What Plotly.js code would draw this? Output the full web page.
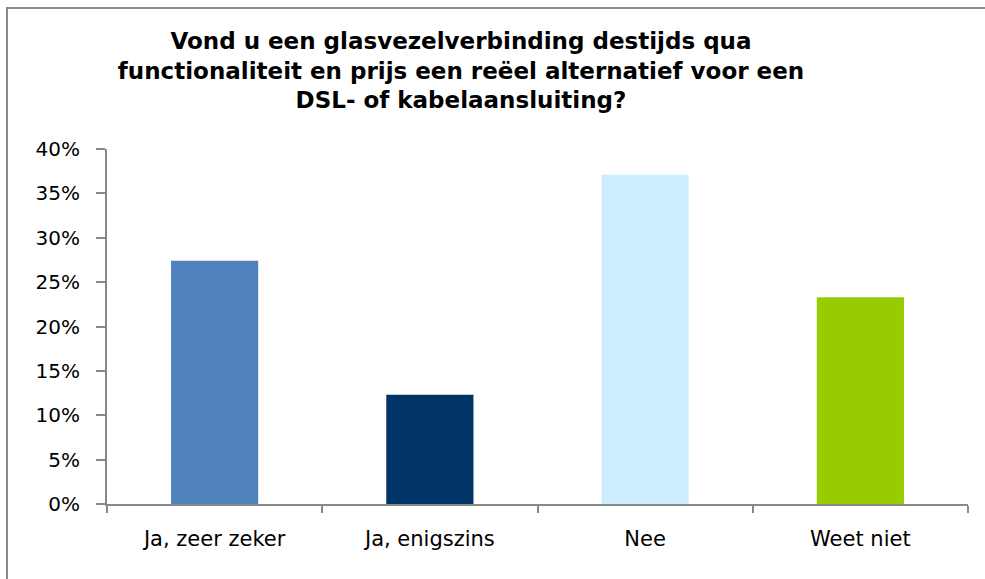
<!DOCTYPE html>
<html>
<head>
<meta charset="utf-8">
<script src="https://cdn.plot.ly/plotly-3.0.1.min.js"></script>
<style>html,body{margin:0;padding:0;background:#fff;}#chart{width:985px;height:579px;}</style>
</head>
<body>
<div id="chart"></div>
<script>
const categories = ["Ja, zeer zeker", "Ja, enigszins", "Nee", "Weet niet"];
const values = [0.274, 0.123, 0.371, 0.233];
const barColors = ["#4f81bd", "#003366", "#cceeff", "#99cc00"];
const yTickVals = [0, 0.05, 0.10, 0.15, 0.20, 0.25, 0.30, 0.35, 0.40];
const titleText = "Vond u een glasvezelverbinding destijds qua<br>functionaliteit en prijs een reëel alternatief voor een<br>DSL- of kabelaansluiting?";

const font = "Verdana, 'DejaVu Sans', sans-serif";

const trace = {
  type: "bar",
  x: categories,
  y: values,
  marker: {color: barColors, line: {width: 0}},
  hoverinfo: "x+y"
};

const layout = {
  width: 985,
  height: 579,
  paper_bgcolor: "#ffffff",
  plot_bgcolor: "#ffffff",
  margin: {l: 107, r: 17, t: 149, b: 75},
  showlegend: false,
  bargap: 0.595,
  font: {family: font, color: "#000000", size: 20},
  title: {
    text: titleText,
    font: {family: font, size: 23, color: "#000000", weight: "bold"},
    xref: "container", x: 0.468, xanchor: "center",
    yref: "container", y: 0.916, yanchor: "top"
  },
  xaxis: {
    type: "category",
    tickson: "boundaries",
    ticks: "outside",
    ticklen: 7,
    tickwidth: 2,
    tickcolor: "#898989",
    showline: true,
    linecolor: "#898989",
    linewidth: 2,
    showgrid: false,
    zeroline: false,
    tickfont: {family: font, size: 21, color: "#000000"},
    ticklabelstandoff: 15
  },
  yaxis: {
    range: [0, 0.40],
    tickvals: yTickVals,
    tickformat: ".0%",
    ticks: "outside",
    ticklen: 9,
    tickwidth: 2,
    tickcolor: "#898989",
    showline: true,
    linecolor: "#898989",
    linewidth: 2,
    showgrid: false,
    zeroline: false,
    tickfont: {family: font, size: 20, color: "#000000"},
    ticklabelstandoff: 12
  },
  shapes: [{
    type: "rect", xref: "paper", yref: "paper",
    x0: -100/861, x1: 1.1, y0: -0.3, y1: 1 + 141/355,
    line: {color: "#8a8a8a", width: 2}, fillcolor: "rgba(0,0,0,0)", layer: "below"
  }]
};

Plotly.newPlot("chart", [trace], layout, {displayModeBar: false, staticPlot: true});
</script>
</body>
</html>
